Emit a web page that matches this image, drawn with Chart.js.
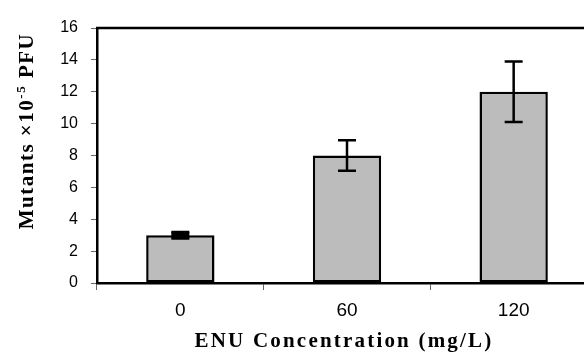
<!DOCTYPE html>
<html>
<head>
<meta charset="utf-8">
<script src="https://cdn.jsdelivr.net/npm/chart.js@4"></script>
<style>
  html, body { margin: 0; padding: 0; background: #fff; overflow: hidden; }
  .wrap { width: 597px; height: 353px; }
</style>
</head>
<body>
<div class="wrap"><canvas id="myChart" width="597" height="353"></canvas></div>
<script>
const concentrations = ["0", "60", "120"];
const mutants = [3, 8, 12];
const errors = [0.2, 0.95, 1.9];
const yTicks = [0, 2, 4, 6, 8, 10, 12, 14, 16];

const xTitle = "ENU Concentration (mg/L)";
const yTitleParts = ["Mutants \u00d710", "-5", " PFU"];

// error bars, drawn from the bar elements and the y scale
const errorBars = {
  id: "errorBars",
  afterDatasetsDraw(chart) {
    const ctx = chart.ctx;
    const y = chart.scales.y;
    const meta = chart.getDatasetMeta(0);
    ctx.save();
    ctx.strokeStyle = "#000";
    ctx.lineWidth = 2.5;
    meta.data.forEach((bar, i) => {
      const top = y.getPixelForValue(mutants[i] + errors[i]);
      const bot = y.getPixelForValue(mutants[i] - errors[i]);
      ctx.beginPath();
      ctx.moveTo(bar.x, top);
      ctx.lineTo(bar.x, bot);
      ctx.moveTo(bar.x - 9, top);
      ctx.lineTo(bar.x + 9, top);
      ctx.moveTo(bar.x - 9, bot);
      ctx.lineTo(bar.x + 9, bot);
      ctx.stroke();
      if (errors[i] < 0.5) {
        ctx.fillStyle = "#000";
        ctx.fillRect(bar.x - 9, top, 18, bot - top);
      }
    });
    ctx.restore();
  }
};

// frame top line and the axis titles
const frameAndTitles = {
  id: "frameAndTitles",
  afterDraw(chart) {
    const ctx = chart.ctx;
    const a = chart.chartArea;
    ctx.save();
    ctx.strokeStyle = "#000";
    ctx.lineWidth = 2.5;
    ctx.beginPath();
    ctx.moveTo(a.left - 1, a.top);
    ctx.lineTo(a.right, a.top);
    ctx.stroke();

    ctx.fillStyle = "#000";
    ctx.textBaseline = "alphabetic";
    ctx.font = 'bold 21px "Liberation Serif"';
    ctx.letterSpacing = "2.2px";
    ctx.textAlign = "center";
    ctx.fillText(xTitle, 344, 347);

    // y title, rotated, with superscript
    ctx.translate(33, 131);
    ctx.rotate(-Math.PI / 2);
    ctx.textAlign = "left";
    const big = 'bold 21px "Liberation Serif"';
    const small = 'bold 13px "Liberation Serif"';
    ctx.letterSpacing = "1.5px";
    ctx.font = big;
    const w1 = ctx.measureText(yTitleParts[0]).width;
    const w3 = ctx.measureText(yTitleParts[2]).width;
    ctx.font = small;
    const w2 = ctx.measureText(yTitleParts[1]).width;
    let x = -(w1 + w2 + w3) / 2;
    ctx.font = big;
    ctx.fillText(yTitleParts[0], x, 0);
    x += w1;
    ctx.font = small;
    ctx.fillText(yTitleParts[1], x, -8);
    x += w2;
    ctx.font = big;
    ctx.fillText(yTitleParts[2], x, 0);
    ctx.restore();
  }
};

new Chart(document.getElementById("myChart"), {
  type: "bar",
  data: {
    labels: concentrations,
    datasets: [{
      data: mutants,
      backgroundColor: "#bcbcbc",
      borderColor: "#000",
      borderWidth: 2.5,
      borderSkipped: false,
      barPercentage: 1,
      categoryPercentage: 0.41
    }]
  },
  options: {
    responsive: false,
    animation: false,
    devicePixelRatio: 1,
    layout: { padding: { top: 28, left: 0, right: 0, bottom: 0 } },
    plugins: {
      legend: { display: false },
      tooltip: { enabled: false }
    },
    scales: {
      x: {
        offset: true,
        grid: { display: true, offset: true, drawOnChartArea: false, color: "#666", tickLength: 7, lineWidth: 1 },
        border: { color: "#000", width: 2.5 },
        ticks: { color: "#000", font: { family: '"Liberation Sans", Arial', size: 19 }, padding: 9 },
        afterFit(scale) { scale.height = 70; }
      },
      y: {
        min: 0,
        max: 16,
        grid: { display: true, drawOnChartArea: false, color: "#666", tickLength: 6, lineWidth: 1 },
        border: { color: "#000", width: 2.5 },
        afterBuildTicks(scale) { scale.ticks = yTicks.map(v => ({ value: v })); },
        ticks: { color: "#000", font: { family: '"Liberation Sans", Arial', size: 16 }, padding: 13 },
        afterFit(scale) { scale.width = 97; }
      }
    }
  },
  plugins: [errorBars, frameAndTitles]
});
</script>
</body>
</html>
